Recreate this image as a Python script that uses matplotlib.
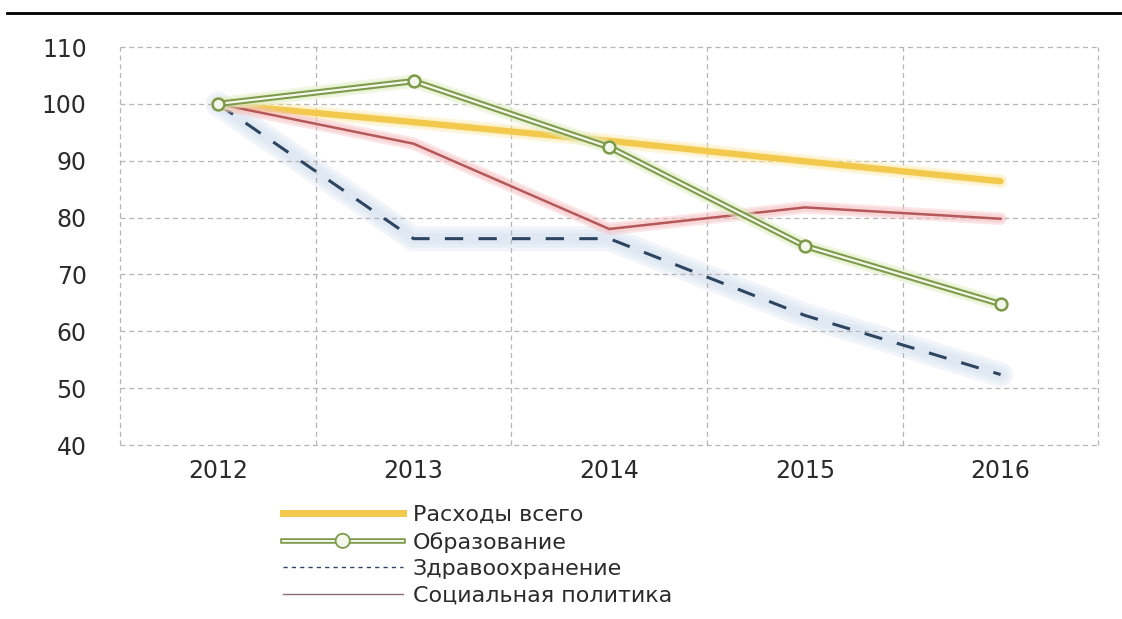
import matplotlib
matplotlib.use("Agg")
import matplotlib.pyplot as plt
import matplotlib.patheffects as pe
from matplotlib.lines import Line2D

plt.rcParams["font.family"] = ["DejaVu Sans"]

years = ["2012", "2013", "2014", "2015", "2016"]
total = [100, 96.8, 93.5, 89.9, 86.4]
education = [100, 104.0, 92.4, 75.0, 64.8]
health = [100, 76.3, 76.3, 62.8, 52.4]
social = [100, 93.0, 78.0, 81.8, 79.8]
labels = ["Расходы всего", "Образование", "Здравоохранение", "Социальная политика"]

fig = plt.figure(figsize=(11.22, 6.19), dpi=100)
ax = fig.add_axes([0.107, 0.281, 0.872, 0.643])
xs = list(range(len(years)))


def halo(y, color, widths, alpha, z):
    # soft blurred glow drawn as a few stacked translucent strokes
    for w in widths:
        ax.plot(xs, y, color=color, lw=w, alpha=alpha, solid_capstyle="round",
                solid_joinstyle="round", zorder=z)


halo(health, "#D3E0EF", [18, 13, 8], 0.3, 1)
ax.plot(xs, health, color="#2E4560", lw=2.2, dashes=(6, 5), zorder=2)

halo(total, "#FBE7A0", [10, 7], 0.35, 3)
ax.plot(xs, total, color="#F2C94C", lw=4.5, solid_capstyle="round", zorder=3)

halo(social, "#F6BFC2", [9, 6], 0.4, 4)
ax.plot(xs, social, color="#B5585A", lw=1.8, zorder=4)

# education: double (outlined) line with hollow markers
halo(education, "#E0EEC2", [10, 7], 0.45, 5)
ax.plot(xs, education, color="#7D9A4A", lw=4.5, zorder=5)
ax.plot(xs, education, color="#F4F8EC", lw=1.6, zorder=6)
ax.plot(xs, education, ls="none", marker="o", ms=8.5, mfc="#F4F8EC", mec="#7D9A4A",
        mew=1.8, zorder=7)

ax.set_xlim(-0.5, 4.5)
ax.set_ylim(40, 110)
ax.set_yticks(range(40, 111, 10))
ax.set_xticks(xs)
ax.set_xticklabels(years)
ax.set_xticks([x - 0.5 for x in range(len(years) + 1)], minor=True)
ax.tick_params(axis="both", which="both", length=0, labelsize=17, colors="#2B2B2B")
ax.tick_params(axis="x", pad=10)
ax.tick_params(axis="y", pad=24)
ax.grid(axis="y", which="major", color="#B5B5B5", ls=(0, (4, 3)), lw=0.9)
ax.grid(axis="x", which="minor", color="#B5B5B5", ls=(0, (4, 3)), lw=0.9)
for t in ax.yaxis.get_major_ticks() + ax.xaxis.get_minor_ticks():
    t.gridline.set_clip_on(False)
for s in ax.spines.values():
    s.set_visible(False)

fig.add_artist(Line2D([0.006, 1.0], [0.979, 0.979], color="black", lw=2))

h_edu = Line2D([], [], color="#7D9A4A", lw=4, marker="o", ms=7.5, mfc="#F4F8EC", mec="#7D9A4A",
               mew=1.6, path_effects=[pe.Stroke(linewidth=4, foreground="#7D9A4A"),
                                      pe.Stroke(linewidth=1.4, foreground="#F4F8EC")])
h_total = Line2D([], [], color="#F2C94C", lw=5)
h_health = Line2D([], [], color="#2E4560", lw=1, dashes=(3, 3))
h_social = Line2D([], [], color="#8E6E6E", lw=1)
fig.legend([h_total, h_edu, h_health, h_social], labels, loc="upper left",
           bbox_to_anchor=(0.252, 0.184), frameon=False, fontsize=16,
           handlelength=5.4, handletextpad=0.45, labelspacing=0.3, borderpad=0,
           borderaxespad=0, labelcolor="#2B2B2B")

fig.savefig("out.png", dpi=100)
